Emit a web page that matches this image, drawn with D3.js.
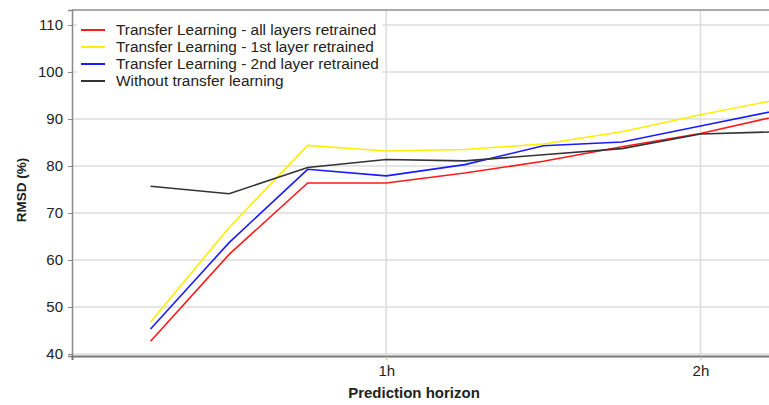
<!DOCTYPE html>
<html>
<head>
<meta charset="utf-8">
<script src="https://cdn.jsdelivr.net/npm/d3@7"></script>
<style>
  body { margin: 0; background: #fff; }
  text { font-family: "Liberation Sans", Arial, sans-serif; fill: #222; }
</style>
</head>
<body>
<div id="chart"></div>
<script>
// data, minutes of prediction horizon
var horizons = [15, 30, 45, 60, 75, 90, 105, 120, 135];

var seriesNames = [
    "Transfer Learning - all layers retrained",
    "Transfer Learning - 1st layer retrained",
    "Transfer Learning - 2nd layer retrained",
    "Without transfer learning"
];

var allLayers = [42.7, 61.2, 76.4, 76.4, 78.5, 81.0, 84.1, 86.9, 90.7];
var firstLayer = [46.8, 66.9, 84.4, 83.2, 83.5, 84.7, 87.3, 90.9, 94.2];
var secondLayer = [45.3, 63.7, 79.3, 77.9, 80.3, 84.3, 85.1, 88.5, 91.9];
var noTransfer = [75.7, 74.1, 79.7, 81.4, 81.1, 82.4, 83.7, 86.8, 87.3];

var seriesColors = ["#ff1a1a", "#ffee00", "#1a1aff", "#333333"];

var xTickValues = [60, 120];
var xTickLabels = ["1h", "2h"];
var yTickValues = [40, 50, 60, 70, 80, 90, 100, 110];

// svg params
var svgWidth = 769;
var svgHeight = 405;

// plot area (right side runs past the picture edge)
var plot = { left: 72, top: 10, right: 779, bottom: 356 };

var svg = d3.select("#chart")
    .append("svg")
    .attr("width", svgWidth)
    .attr("height", svgHeight);

var xScale = d3.scaleLinear()
    .domain([0, 135])
    .range([plot.left, plot.right]);

var yScale = d3.scaleLinear()
    .domain([39.57, 113.2])
    .range([plot.bottom, plot.top]);

svg.append("clipPath")
    .attr("id", "clip")
    .append("rect")
    .attr("x", plot.left)
    .attr("y", plot.top)
    .attr("width", svgWidth - plot.left)
    .attr("height", plot.bottom - plot.top);

/// horizontal grid
svg.append("g")
    .selectAll("line")
    .data(yTickValues)
    .enter()
    .append("line")
    .attr("x1", plot.left)
    .attr("x2", svgWidth)
    .attr("y1", d => yScale(d))
    .attr("y2", d => yScale(d))
    .attr("stroke", "#dcdcdc")
    .attr("stroke-width", 1.5);

/// vertical grid
svg.append("g")
    .selectAll("line")
    .data(xTickValues)
    .enter()
    .append("line")
    .attr("x1", d => xScale(d))
    .attr("x2", d => xScale(d))
    .attr("y1", plot.top)
    .attr("y2", plot.bottom)
    .attr("stroke", "#dcdcdc")
    .attr("stroke-width", 1.5);

// top border
svg.append("line")
    .attr("x1", plot.left)
    .attr("x2", svgWidth)
    .attr("y1", plot.top)
    .attr("y2", plot.top)
    .attr("stroke", "#aaaaaa")
    .attr("stroke-width", 2);

/// y axis
var leftAxis = d3.axisLeft(yScale)
    .tickValues(yTickValues)
    .tickSize(4)
    .tickPadding(5);

var yAxisG = svg.append("g")
    .attr("transform", `translate(${plot.left},0)`)
    .call(leftAxis);
yAxisG.select(".domain").attr("stroke", "#888").attr("stroke-width", 1.5);
yAxisG.selectAll(".tick line").attr("stroke", "#888");
yAxisG.selectAll("text").style("font-size", "15px").style("fill", "#222");

/// x axis
var bottomAxis = d3.axisBottom(xScale)
    .tickValues(xTickValues)
    .tickFormat((d, i) => xTickLabels[i])
    .tickSize(4)
    .tickPadding(5);

var xAxisG = svg.append("g")
    .attr("transform", `translate(0,${plot.bottom})`)
    .call(bottomAxis);
xAxisG.select(".domain").attr("stroke", "#777").attr("stroke-width", 2);
xAxisG.selectAll(".tick line").attr("stroke", "#bbb");
xAxisG.selectAll("text").style("font-size", "15px").style("fill", "#222");

/// lines
var allSeries = [allLayers, firstLayer, secondLayer, noTransfer];

var lineGen = d3.line()
    .x((d, i) => xScale(horizons[i]))
    .y(d => yScale(d));

svg.append("g")
    .attr("clip-path", "url(#clip)")
    .selectAll("path")
    .data(allSeries)
    .enter()
    .append("path")
    .attr("d", d => lineGen(d))
    .attr("fill", "none")
    .attr("stroke", (d, i) => seriesColors[i])
    .attr("stroke-width", 1.6);

/// legend
var legend = svg.append("g");
legend.append("rect")
    .attr("x", 77)
    .attr("y", 18)
    .attr("width", 305)
    .attr("height", 72)
    .attr("fill", "#fff");

var legendRows = legend.selectAll("g")
    .data(seriesNames)
    .enter()
    .append("g")
    .attr("transform", (d, i) => `translate(0,${30 + i * 17})`);

legendRows.append("line")
    .attr("x1", 81)
    .attr("x2", 105)
    .attr("stroke", (d, i) => seriesColors[i])
    .attr("stroke-width", 2);

legendRows.append("text")
    .attr("x", 116)
    .attr("dy", "0.35em")
    .style("font-size", "15.4px")
    .text(d => d);

/// axis titles
svg.append("text")
    .attr("x", 414)
    .attr("y", 398)
    .attr("text-anchor", "middle")
    .style("font-size", "15px")
    .style("font-weight", "bold")
    .text("Prediction horizon");

svg.append("text")
    .attr("transform", "translate(26,190) rotate(-90)")
    .attr("text-anchor", "middle")
    .style("font-size", "13.5px")
    .style("font-weight", "bold")
    .text("RMSD (%)");
</script>
</body>
</html>
